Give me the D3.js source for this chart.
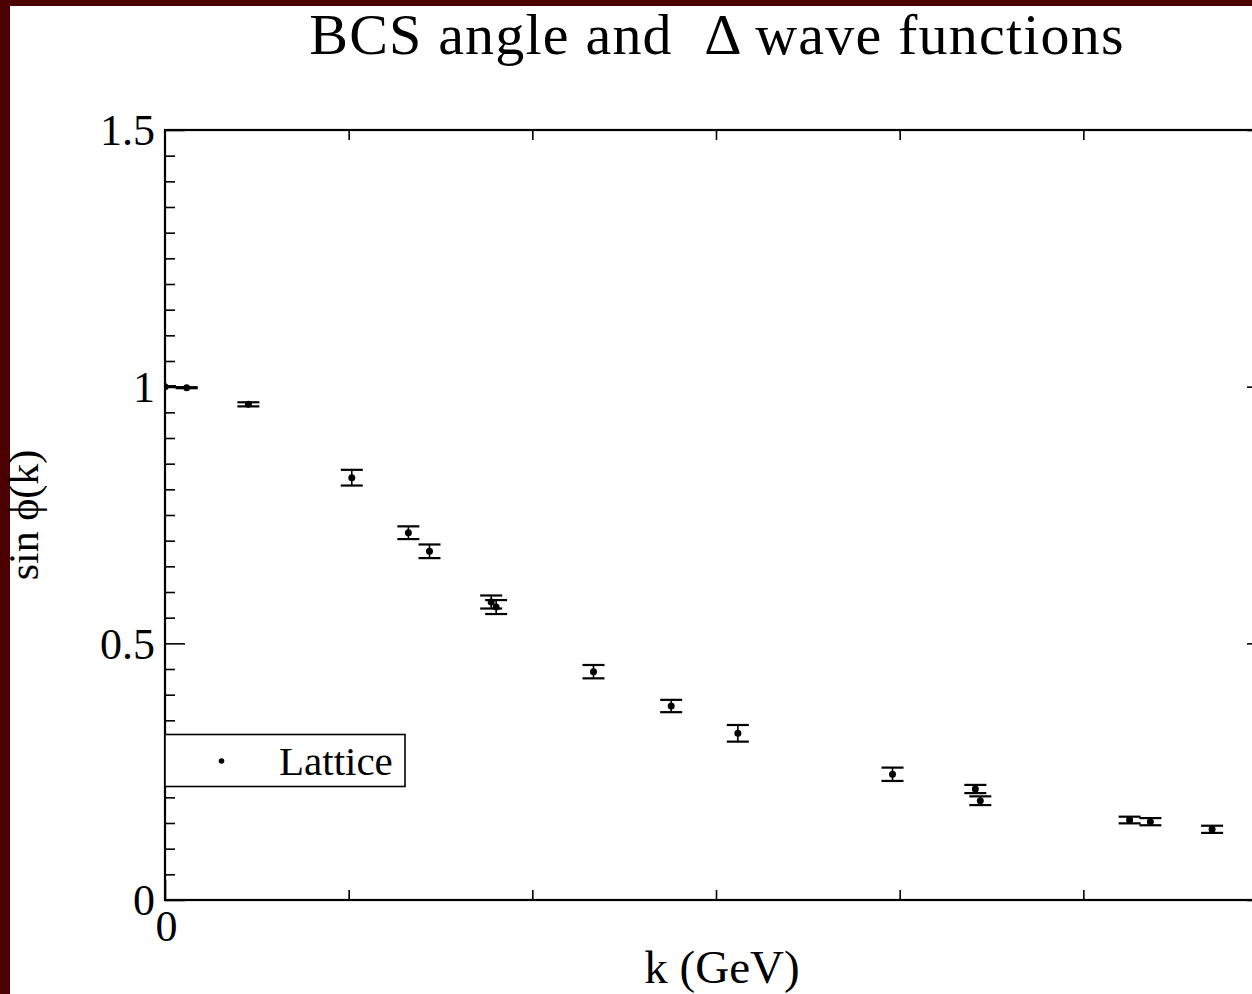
<!DOCTYPE html>
<html>
<head>
<meta charset="utf-8">
<script src="https://cdn.jsdelivr.net/npm/d3@7"></script>
<style>
  html, body { margin: 0; padding: 0; background: #4d0000; }
  svg { display: block; }
</style>
</head>
<body>
<svg id="chart" width="1252" height="994"></svg>
<script>
// ---- data ----
const kValues = [0, 0.118, 0.454, 1.017, 1.325, 1.44, 1.776, 1.803, 2.333, 2.756, 3.119, 3.961, 4.412, 4.439, 5.252, 5.365, 5.701];
const sinPhi  = [1.0, 0.998, 0.9656, 0.8227, 0.7155, 0.6793, 0.5805, 0.5707, 0.4448, 0.3779, 0.3247, 0.2449, 0.2162, 0.1934, 0.1558, 0.1526, 0.1377];
const sinErr  = [0.001, 0.001, 0.004, 0.0153, 0.0124, 0.0133, 0.0127, 0.0136, 0.013, 0.012, 0.0162, 0.013, 0.008, 0.0085, 0.0065, 0.007, 0.007];
const yMajorTicks = [0, 0.5, 1, 1.5];
const yMajorLabels = ["0", "0.5", "1", "1.5"];
const xMajorTicks = [0];
const xMajorLabels = ["0"];
const xMinorTicks = [1, 2, 3, 4, 5];
const titleText = "BCS angle and \u00a0\u0394 wave functions";
const xLabelText = "k (GeV)";
const yLabelText = "sin \u03d5(k)";
const legendLabels = ["Lattice"];

// ---- layout ----
const font = "'Liberation Serif', 'Times New Roman', serif";
const svg = d3.select("#chart");
const L = 165, R = 1267, T = 130, B = 900;

svg.append("rect").attr("x", 10).attr("y", 6).attr("width", 1252).attr("height", 994).attr("fill", "#fff");

const x = d3.scaleLinear().domain([0, 6]).range([L, R]);
const y = d3.scaleLinear().domain([0, 1.5]).range([B, T]);

const yMinor = d3.range(0, 1.5001, 0.05).map(v => +v.toFixed(2)).filter(v => !yMajorTicks.some(m => Math.abs(m - v) < 1e-6));

function styleAxis(g) {
  g.selectAll(".domain").remove();
  g.selectAll(".tick line").attr("stroke", "#000").attr("stroke-width", 1.6);
  g.selectAll(".tick text").attr("font-family", font).attr("font-size", 44).attr("fill", "#000");
}

// left axis
svg.append("g").attr("transform", `translate(${L},0)`)
  .call(d3.axisLeft(y).tickValues(yMinor).tickSizeInner(-10).tickSizeOuter(0).tickFormat(""))
  .call(styleAxis);
svg.append("g").attr("transform", `translate(${L},0)`)
  .call(d3.axisLeft(y).tickValues(yMajorTicks).tickSizeInner(-20).tickSizeOuter(0).tickPadding(10)
    .tickFormat((d, i) => yMajorLabels[i]))
  .call(styleAxis)
  .call(g => g.selectAll(".tick text").attr("dy", "0.34em"));
// right axis
svg.append("g").attr("transform", `translate(${R},0)`)
  .call(d3.axisRight(y).tickValues(yMinor).tickSizeInner(-10).tickSizeOuter(0).tickFormat(""))
  .call(styleAxis);
svg.append("g").attr("transform", `translate(${R},0)`)
  .call(d3.axisRight(y).tickValues(yMajorTicks).tickSizeInner(-20).tickSizeOuter(0).tickFormat(""))
  .call(styleAxis);
// bottom axis
svg.append("g").attr("transform", `translate(0,${B})`)
  .call(d3.axisBottom(x).tickValues(xMinorTicks).tickSizeInner(-10).tickSizeOuter(0).tickFormat(""))
  .call(styleAxis);
svg.append("g").attr("transform", `translate(0,${B})`)
  .call(d3.axisBottom(x).tickValues(xMajorTicks).tickSizeInner(-20).tickSizeOuter(0).tickPadding(10)
    .tickFormat((d, i) => xMajorLabels[i]))
  .call(styleAxis)
  .call(g => g.selectAll(".tick text").attr("dy", "0.71em").attr("dx", 1));
// top axis
svg.append("g").attr("transform", `translate(0,${T})`)
  .call(d3.axisTop(x).tickValues(xMinorTicks).tickSizeInner(-10).tickSizeOuter(0).tickFormat(""))
  .call(styleAxis);

// frame
svg.append("rect").attr("x", L).attr("y", T).attr("width", R - L).attr("height", B - T)
  .attr("fill", "none").attr("stroke", "#000").attr("stroke-width", 2.2);

// clip
svg.append("clipPath").attr("id", "plotclip").append("rect")
  .attr("x", L).attr("y", T).attr("width", R - L).attr("height", B - T);

const data = kValues.map((k, i) => ({ k, v: sinPhi[i], e: sinErr[i] }));
const gData = svg.append("g").attr("clip-path", "url(#plotclip)");
const cap = 11;
const eb = gData.selectAll("g.pt").data(data).join("g").attr("class", "pt");
eb.append("line")
  .attr("x1", d => x(d.k)).attr("x2", d => x(d.k))
  .attr("y1", d => y(d.v + d.e)).attr("y2", d => y(d.v - d.e))
  .attr("stroke", "#000").attr("stroke-width", 1.6);
eb.append("line")
  .attr("x1", d => x(d.k) - cap).attr("x2", d => x(d.k) + cap)
  .attr("y1", d => y(d.v + d.e)).attr("y2", d => y(d.v + d.e))
  .attr("stroke", "#000").attr("stroke-width", 2.2);
eb.append("line")
  .attr("x1", d => x(d.k) - cap).attr("x2", d => x(d.k) + cap)
  .attr("y1", d => y(d.v - d.e)).attr("y2", d => y(d.v - d.e))
  .attr("stroke", "#000").attr("stroke-width", 2.2);
eb.append("circle")
  .attr("cx", d => x(d.k)).attr("cy", d => y(d.v)).attr("r", 3.5).attr("fill", "#000");

// legend
const lg = svg.append("g");
lg.append("rect").attr("x", L).attr("y", 734.5).attr("width", 240).attr("height", 52)
  .attr("fill", "#fff").attr("stroke", "#000").attr("stroke-width", 1.6);
lg.append("circle").attr("cx", 221.5).attr("cy", 761).attr("r", 2.8).attr("fill", "#000");
lg.append("text").attr("x", 279).attr("y", 775).attr("font-family", font).attr("font-size", 41)
  .attr("fill", "#000").text(legendLabels[0]);

// title & labels
svg.append("text").attr("x", 717).attr("y", 54).attr("text-anchor", "middle")
  .attr("font-family", font).attr("font-size", 58).attr("letter-spacing", 1.2)
  .attr("fill", "#000").text(titleText);
svg.append("text").attr("x", 722).attr("y", 983).attr("text-anchor", "middle")
  .attr("font-family", font).attr("font-size", 47).attr("fill", "#000").text(xLabelText);
svg.append("text").attr("transform", `translate(38,515) rotate(-90)`).attr("text-anchor", "middle")
  .attr("font-family", font).attr("font-size", 42).attr("fill", "#000").text(yLabelText);
</script>
</body>
</html>
